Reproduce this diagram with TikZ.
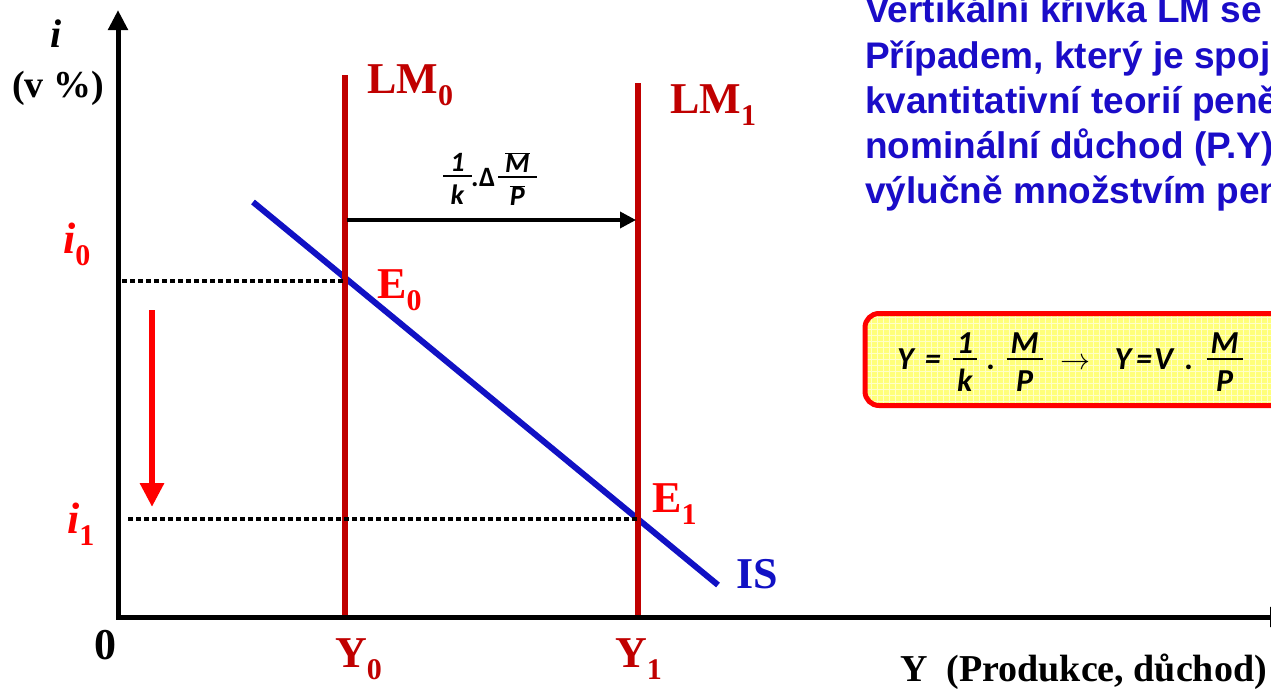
\documentclass[tikz,border=0pt]{standalone}
\usepackage{fontspec}
\setmainfont{Liberation Serif}
\setsansfont{Liberation Sans}
\newfontfamily\calibri{Carlito}
\usetikzlibrary{arrows.meta}
\definecolor{darkred}{HTML}{C00000}
\definecolor{brightred}{HTML}{FF0000}
\definecolor{isblue}{HTML}{1111C4}
\definecolor{textblue}{HTML}{1A0CC8}
\definecolor{boxyellow}{HTML}{FFFF7A}
\definecolor{gridyellow}{HTML}{FFFFC8}
\newcommand\lowsub[1]{\raisebox{-0.28em}{\upshape\fontsize{30}{30}\selectfont #1}}
\newcommand\fr[3][4pt]{{\setlength\arrayrulewidth{2pt}\renewcommand\arraystretch{0}%
  \begin{tabular}{@{\hspace{#1}}c@{\hspace{#1}}}\rule[-0.13em]{0pt}{0.8em}#2\\\hline\rule[-0.07em]{0pt}{1.05em}#3\end{tabular}}}
\tikzset{
  biglabel/.style={font=\bfseries\fontsize{44}{48}\selectfont,inner sep=0pt,anchor=base west},
  redlabel/.style={biglabel,text=darkred},
  ptlabel/.style={biglabel,text=brightred},
  axislabel/.style={font=\bfseries\fontsize{38}{42}\selectfont,inner sep=0pt,anchor=base west},
  axis/.style={line width=5pt,line cap=rect,-{Triangle[length=20pt,width=19pt]}},
  lmline/.style={draw=darkred,line width=6pt},
  isline/.style={draw=isblue,line width=6pt},
  guide/.style={line width=4pt,dash pattern=on 4.5pt off 3.5pt},
  shiftarr/.style={line width=3.5pt,-{Triangle[length=16pt,width=16pt]}},
  downarr/.style={draw=brightred,line width=6pt,-{Triangle[length=24pt,width=23pt]}},
  note/.style={font=\sffamily\bfseries\fontsize{37}{45}\selectfont,text=textblue,inner sep=0pt,anchor=base west},
  eqbox/.style={draw=brightred,line width=5pt,rounded corners=14pt,fill=boxyellow,
    path picture={\draw[gridyellow,line width=0.8pt] (path picture bounding box.south west) grid[step=6pt] (path picture bounding box.north east);}},
  eqtext/.style={font=\calibri\bfseries\itshape\fontsize{32}{38}\selectfont,inner sep=0pt,anchor=base west},
  shiftlabel/.style={font=\calibri\bfseries\itshape\fontsize{28}{32}\selectfont,inner sep=0pt,anchor=base}
}
\begin{document}
\begin{tikzpicture}[x=1pt,y=-1pt]
\path[use as bounding box] (0,0) rectangle (1271,688);
\clip (0,0) rectangle (1271,688);
% points of the diagram
\coordinate (o) at (118,617);
\coordinate (ytop) at (118,10);
\coordinate (xend) at (1290,617);
\coordinate (lm0top) at (345,75);
\coordinate (y0foot) at (345,617);
\coordinate (lm1top) at (638,83);
\coordinate (y1foot) at (638,617);
\coordinate (is0) at (253,202);
\coordinate (is1) at (718,585);
\coordinate (e0) at (345,281);
\coordinate (e1) at (638,519);
\coordinate (i0foot) at (122,281);
\coordinate (i1foot) at (128,519);
\coordinate (sh0) at (347,220);
\coordinate (sh1) at (636,220);
\coordinate (dn0) at (152,310);
\coordinate (dn1) at (152,507);
% curves
\draw[isline] (is0) -- (is1);
\draw[lmline] (lm0top) -- (y0foot);
\draw[lmline] (lm1top) -- (y1foot);
\draw[guide] (i0foot) -- (e0);
\draw[guide] (i1foot) -- (e1);
\draw[axis] (o) -- (ytop);
\draw[axis] (o) -- (xend);
\draw[shiftarr] (sh0) -- (sh1);
\draw[downarr] (dn0) -- (dn1);
% labels
\node[redlabel] (lm0lab) at (367,93) {LM\lowsub{0}};
\node[redlabel] (lm1lab) at (670,113) {LM\lowsub{1}};
\node[ptlabel] (e0lab) at (377,298) {E\lowsub{0}};
\node[ptlabel] (e1lab) at (652,512) {E\lowsub{1}};
\node[biglabel,text=isblue] (islab) at (736,588) {IS};
\node[redlabel] (y0lab) at (335,667) {Y\lowsub{0}};
\node[redlabel] (y1lab) at (615,667) {Y\lowsub{1}};
\node[biglabel] (zero) at (94,659) {0};
\node[ptlabel,font=\bfseries\itshape\fontsize{44}{48}\selectfont] (i0lab) at (63,253) {i\lowsub{0}};
\node[ptlabel,font=\bfseries\itshape\fontsize{44}{48}\selectfont] (i1lab) at (67,533) {i\lowsub{1}};
\node[axislabel,font=\bfseries\itshape\fontsize{40}{44}\selectfont] (ilab) at (50,47) {i};
\node[axislabel] (unitlab) at (12,97) {(v \%)};
\node[axislabel] (xlab) at (900,681) {Y\ \ (Produkce, důchod)};
\node[shiftlabel] (shiftlab) at (490,186) {\fr[7pt]{1}{k}.{\upshape Δ}\hspace{3pt}\fr[7pt]{$\overline{\hbox{M}}$}{$\overline{\hbox{P}}$}};
% formula box
\node[eqbox,minimum width=480pt,minimum height=92pt,anchor=west] (box) at (862.5,359.5) {};
\node[eqtext] (eqn) at (897,369) {Y\hspace{11pt}=\hspace{12pt}\fr{1}{k}\hspace{10pt}.\hspace{11pt}\fr{M}{P}\hspace{18pt}\resizebox{30pt}{!}{$\rightarrow$}\hspace{24pt}Y\hspace{5pt}=\hspace{2pt}V\hspace{12pt}.\hspace{13pt}\fr{M}{P}};
% text at the right
\foreach \ln [count=\k] in {{Vertikální křivka LM se},{Případem, který je spoj},{kvantitativní teorií peně},{nominální důchod (P.Y)},{výlučně množstvím pen}}
  \node[note] (note\k) at (865,{23+45*(\k-1)}) {\ln};
\end{tikzpicture}
\end{document}
